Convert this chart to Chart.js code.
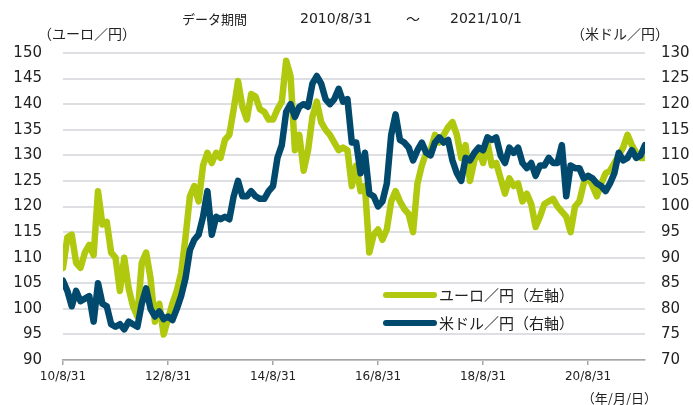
<!DOCTYPE html>
<html>
<head>
<meta charset="utf-8">
<script src="https://cdn.jsdelivr.net/npm/chart.js@4/dist/chart.umd.min.js"></script>
<style>
  body { margin: 0; background: #fff; }
  canvas { display: block; }
</style>
</head>
<body>
<canvas id="fxChart" width="693" height="405"></canvas>
<script>
// month index 0 = 2010/8 ... 133 = 2021/9 (~2021/10/1)
const eurJpy = [
  108, 114, 114.5, 109, 108,
  111, 112.5, 110.5, 123, 116.5, 117, 111, 110, 103.5, 110, 104, 100.5,
  98.5, 109, 111, 106, 97.5, 101, 95, 98, 101, 103.5, 107, 114,
  122, 124, 121, 128, 130.5, 128.5, 130.5, 129.5, 133, 134, 139, 144.5,
  139.5, 137, 142, 141.5, 139, 138.5, 137, 137, 139, 140.5, 148.5, 145.5,
  131, 134, 127, 131, 137.5, 140.5, 136.5, 135, 134, 132.5, 131, 131.5,
  131, 124, 128, 123, 124, 111, 114.5, 115.5, 113.5, 115.5, 121, 123,
  121, 119.5, 118.5, 115, 124.5, 128, 130.5, 131, 134, 132.5, 134, 135.5,
  136.5, 134, 129.5, 132, 125, 129, 131, 128.5, 132.5, 128, 128.5, 125.5,
  122.5, 125.5, 124, 124.5, 121, 122.5, 120.5, 116, 118, 120.5, 121, 121.5,
  120, 119, 118, 115, 120, 121, 124.5, 126, 124, 122, 124.5, 126.5,
  127, 128.5, 130, 131.5, 134, 132, 130.5, 129.5, 129.5
];
const usdJpy = [
  85.5, 83.5, 80.5, 83.5, 81.5,
  82, 82.5, 77.5, 85, 81, 80.5, 77, 76.5, 77, 76, 77.5, 77,
  76.5, 81, 84, 80, 78.5, 79.5, 78, 78.5, 77.8, 80, 82.5, 86,
  91.5, 93.5, 94.5, 98, 103, 94.5, 98, 97.5, 98, 97.5, 102, 105,
  102, 102, 103, 102, 101.5, 101.5, 103, 104, 109.5, 112, 118.5, 120,
  117.5, 119.5, 120, 119.5, 124, 125.5, 124, 121, 120, 121, 123, 120.5,
  121, 112.5, 112.5, 106.5, 110.5, 102.5, 102, 100, 101, 104.5, 114, 118,
  113, 112.5, 111.5, 109, 111, 112.5, 110.5, 110, 112.5, 113.5, 112.5, 113,
  109, 106.5, 105, 109.5, 109, 110.5, 111.5, 111, 113.5, 113, 113.5, 110,
  108.5, 111.5, 110.5, 111.5, 108.5, 107.5, 108.5, 106, 108, 108, 109.5, 108.5,
  108.5, 112, 102, 108, 107.5, 107.5, 105.5, 106, 105.5, 104.5, 104, 103,
  104.5, 106.5, 110.5, 109, 109.5, 111, 109.5, 110, 112
];
const xTickPos = [0, 24, 48, 72, 96, 120];
const xTickLabels = ['10/8/31', '12/8/31', '14/8/31', '16/8/31', '18/8/31', '20/8/31'];
const seriesNames = ['ユーロ／円（左軸）', '米ドル／円（右軸）'];
const seriesColors = ['#b0c80e', '#014a6d'];

const jpFont = '"Noto Sans CJK JP", "Noto Sans", sans-serif';
const numFont = '"DejaVu Sans", Verdana, sans-serif';

// titles, unit labels and legend drawn on the canvas
const textPlugin = {
  id: 'texts',
  afterDraw(chart) {
    const c = chart.ctx;
    c.save();
    c.fillStyle = '#222';
    c.textBaseline = 'middle';

    c.font = '13px ' + jpFont;
    c.textAlign = 'left';
    c.fillText('データ期間', 182, 19);
    c.font = '14px ' + numFont;
    c.fillText('2010/8/31', 300, 19);
    c.textAlign = 'center';
    c.font = '14px ' + jpFont;
    c.fillText('〜', 413, 19);
    c.textAlign = 'left';
    c.font = '14px ' + numFont;
    c.fillText('2021/10/1', 450, 19);

    c.font = '14px ' + jpFont;
    c.textAlign = 'left';
    c.fillText('（ユーロ／円）', 38, 34);
    c.textAlign = 'right';
    c.fillText('（米ドル／円）', 669, 34);
    c.font = '13px ' + jpFont;
    c.fillText('（年/月/日）', 657, 398);

    // legend
    const rows = [295, 323];
    rows.forEach((y, i) => {
      c.strokeStyle = seriesColors[i];
      c.lineWidth = 6;
      c.lineCap = 'round';
      c.beginPath();
      c.moveTo(386, y);
      c.lineTo(434, y);
      c.stroke();
      c.fillStyle = '#222';
      c.textAlign = 'left';
      c.font = '15px ' + jpFont;
      c.fillText(seriesNames[i], 439, y);
    });
    c.restore();
  }
};

new Chart(document.getElementById('fxChart'), {
  type: 'line',
  data: {
    datasets: [
      {
        label: seriesNames[0],
        data: eurJpy.map((v, i) => ({ x: i, y: v })),
        borderColor: seriesColors[0],
        yAxisID: 'y',
        order: 2
      },
      {
        label: seriesNames[1],
        data: usdJpy.map((v, i) => ({ x: i, y: v })),
        borderColor: seriesColors[1],
        yAxisID: 'y2',
        order: 1
      }
    ]
  },
  options: {
    responsive: false,
    animation: false,
    layout: { padding: { top: 53, left: 0, right: 0, bottom: 0 } },
    elements: {
      line: { borderWidth: 6.5, borderCapStyle: 'round', borderJoinStyle: 'round', tension: 0 },
      point: { radius: 0 }
    },
    plugins: { legend: { display: false }, tooltip: { enabled: false } },
    scales: {
      x: {
        type: 'linear',
        min: 0,
        max: 133,
        afterBuildTicks: s => { s.ticks = xTickPos.map(v => ({ value: v })); },
        afterFit: s => { s.height = 45; },
        ticks: {
          callback: v => xTickLabels[xTickPos.indexOf(v)],
          font: { family: numFont, size: 12 },
          color: '#222',
          padding: 5,
          maxRotation: 0,
          autoSkip: false
        },
        grid: { drawOnChartArea: false, drawTicks: true, tickLength: 5, color: '#a6a6a6', lineWidth: 1.5 },
        border: { display: true, color: '#a6a6a6', width: 1.5 }
      },
      y: {
        position: 'left',
        min: 90,
        max: 150,
        afterFit: s => { s.width = 63; },
        ticks: { stepSize: 5, font: { family: numFont, size: 15 }, color: '#222', padding: 21 },
        grid: { color: '#dddfe3', lineWidth: 2, drawTicks: false },
        border: { display: false }
      },
      y2: {
        position: 'right',
        min: 70,
        max: 130,
        afterFit: s => { s.width = 48; },
        ticks: { stepSize: 5, font: { family: numFont, size: 15 }, color: '#222', padding: 16 },
        grid: { drawOnChartArea: false, drawTicks: false },
        border: { display: false }
      }
    }
  },
  plugins: [textPlugin]
});
</script>
</body>
</html>
